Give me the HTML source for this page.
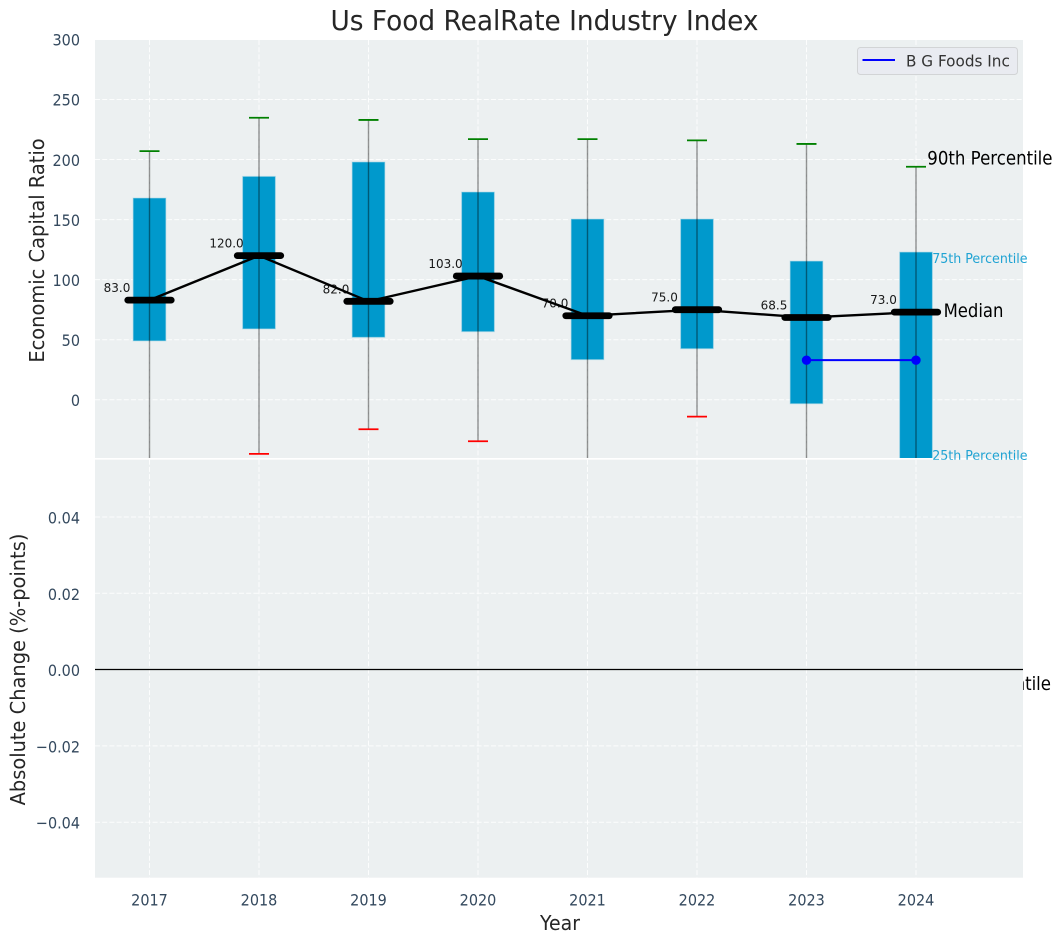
<!DOCTYPE html>
<html>
<head>
<meta charset="utf-8">
<title>Us Food RealRate Industry Index</title>
<style>
html,body{margin:0;padding:0;background:#fff;width:1062px;height:942px;overflow:hidden}
svg{display:block}
text{font-family:"DejaVu Sans","Liberation Sans",sans-serif}
</style>
</head>
<body>
<svg id="chart" width="1062" height="942" viewBox="0 0 1062 942" xmlns="http://www.w3.org/2000/svg">
  <defs>
    <clipPath id="top-clip"><rect x="95" y="40" width="928" height="418"/></clipPath>
  </defs>
  <rect width="1062" height="942" fill="#ffffff"/>
  <rect x="95" y="40" width="928" height="418" fill="#ecf0f1"/>
  <g id="upper-grid"></g>
  <g id="upper-marks" clip-path="url(#top-clip)"></g>
  <g id="upper-ticks"></g>
  <g id="annotations-under"></g>
  <rect x="95" y="459.7" width="928" height="418" fill="#ecf0f1"/>
  <g id="lower-grid"></g>
  <g id="lower-ticks"></g>
  <g id="x-ticks"></g>
  <line x1="95" x2="1023" y1="669.5" y2="669.5" stroke="#000000" stroke-width="1.3"/>
  <text transform="translate(544.5,30) scale(0.963,1)" text-anchor="middle" font-size="27.4" fill="#262626">Us Food RealRate Industry Index</text>
  <text transform="translate(44,250.5) rotate(-90) scale(0.943,1)" text-anchor="middle" font-size="20.6" fill="#262626">Economic Capital Ratio</text>
  <text transform="translate(25,669.5) rotate(-90) scale(0.943,1)" text-anchor="middle" font-size="20.6" fill="#262626">Absolute Change (%-points)</text>
  <text transform="translate(560,930) scale(0.945,1)" text-anchor="middle" font-size="20" fill="#262626">Year</text>
  <g>
    <rect x="857.5" y="47.5" width="160" height="27" rx="3" fill="#e9ebf1" stroke="#d2d4d6" stroke-width="1"/>
    <line x1="862.5" x2="895" y1="60" y2="60" stroke="#0000ff" stroke-width="2"/>
    <text transform="translate(906,66.5) scale(0.93,1)" font-size="16.4" fill="#333333">B G Foods Inc</text>
  </g>
<script>
// ---- chart data ----
var years = [2017, 2018, 2019, 2020, 2021, 2022, 2023, 2024];
var p90 = [207, 234.8, 233, 217, 217, 216, 213, 194];
var p75 = [168, 186, 198, 173, 150.5, 150.5, 115.5, 123];
var medians = [83, 120, 82, 103, 70, 75, 68.5, 73];
var medianLabels = ["83.0", "120.0", "82.0", "103.0", "70.0", "75.0", "68.5", "73.0"];
var p25 = [49, 59, 52, 56.7, 33.4, 42.5, -3.3, -50];
var p10 = [-60, -45, -24.5, -34.5, -65, -14, -70, -238];
var companyYears = [2023, 2024];
var companyValues = [33, 33];
var upperTicks = [0, 50, 100, 150, 200, 250, 300];
var upperTickLabels = ["0", "50", "100", "150", "200", "250", "300"];
var lowerTicks = [-0.04, -0.02, 0, 0.02, 0.04];
var lowerTickLabels = ["\u22120.04", "\u22120.02", "0.00", "0.02", "0.04"];

// ---- axis functions ----
function xAxis(year) { return 149.5 + (year - 2017) * 109.5; }
function yUpper(v) { return 399.8 - v * 1.2012; }
function yLower(v) { return 669.6 - v * 3815; }

var NS = 'http://www.w3.org/2000/svg';
function add(parentId, tag, attrs, txt) {
  var el = document.createElementNS(NS, tag);
  for (var k in attrs) { el.setAttribute(k, attrs[k]); }
  if (txt !== undefined) { el.textContent = txt; }
  document.getElementById(parentId).appendChild(el);
  return el;
}
function label(parentId, x, y, sx, attrs, txt) {
  attrs.transform = 'translate(' + x + ',' + y + ') scale(' + sx + ',1)';
  return add(parentId, 'text', attrs, txt);
}
var GRID = { stroke: '#ffffff', 'stroke-width': 1, 'stroke-dasharray': '5 2.2', 'stroke-opacity': 0.85 };
function gridLine(parentId, x1, x2, y1, y2) {
  var a = { x1: x1, x2: x2, y1: y1, y2: y2 };
  for (var k in GRID) { a[k] = GRID[k]; }
  return add(parentId, 'line', a);
}

// ---- grids and ticks ----
upperTicks.forEach(function (t, i) {
  var y = yUpper(t);
  if (t < 300) {
    var g = gridLine('upper-grid', 95, 1023, y, y);
    
    
  }
  var lab = label('upper-ticks', 80, y + 6.2, 0.9, { 'text-anchor': 'end', 'font-size': 16, fill: '#34495e' }, upperTickLabels[i]);
  
  
});
lowerTicks.forEach(function (t, i) {
  var y = yLower(t);
  if (t !== 0) {
    var g = gridLine('lower-grid', 95, 1023, y, y);
    
    
  }
  var lab = label('lower-ticks', 80, y + 6.5, 0.9, { 'text-anchor': 'end', 'font-size': 16, fill: '#34495e' }, lowerTickLabels[i]);
  
  
});
years.forEach(function (yr) {
  var x = xAxis(yr);
  var g1 = gridLine('upper-grid', x, x, 40, 458);
  
  
  var g2 = gridLine('lower-grid', x, x, 459.7, 877.7);
  
  
  var lab = label('x-ticks', x, 905.3, 0.9, { 'text-anchor': 'middle', 'font-size': 16, fill: '#34495e' }, String(yr));
  
  
});

// ---- boxes, whiskers, caps ----
years.forEach(function (yr, i) {
  var x = xAxis(yr);
  var box = add('upper-marks', 'rect', {
    x: x - 16.4, y: yUpper(p75[i]), width: 32.8, height: yUpper(p25[i]) - yUpper(p75[i]),
    fill: '#0099cc', stroke: '#add8e6', 'stroke-opacity': 0.6, 'stroke-width': 1
  });
  
  

  var whisker = add('upper-marks', 'line', {
    x1: x, x2: x, y1: yUpper(p90[i]), y2: yUpper(p10[i]),
    stroke: '#000000', 'stroke-opacity': 0.42, 'stroke-width': 1.4
  });
  
  

  var capTop = add('upper-marks', 'line', {
    x1: x - 10, x2: x + 10, y1: yUpper(p90[i]), y2: yUpper(p90[i]), stroke: '#008000', 'stroke-width': 1.8
  });
  
  

  var capLow = add('upper-marks', 'line', {
    x1: x - 10, x2: x + 10, y1: yUpper(p10[i]), y2: yUpper(p10[i]), stroke: '#ff0000', 'stroke-width': 1.8
  });
  
  
});

// ---- median trend line ----
var medianPts = years.map(function (yr, i) { return xAxis(yr) + ',' + yUpper(medians[i]); }).join(' ');
var medianLine = add('upper-marks', 'polyline', { points: medianPts, fill: 'none', stroke: '#000000', 'stroke-width': 2.4 });



// ---- thick median bars and printed values ----
years.forEach(function (yr, i) {
  var x = xAxis(yr);
  var y = yUpper(medians[i]);
  var bar = add('upper-marks', 'line', {
    x1: x - 21.7, x2: x + 21.7, y1: y, y2: y, stroke: '#000000', 'stroke-width': 6.8, 'stroke-linecap': 'round'
  });
  
  
  var lab = label('upper-marks', x - 32.5, y - 8, 0.96, { 'text-anchor': 'middle', 'font-size': 12.5, fill: '#000000', 'fill-opacity': 0.9 }, medianLabels[i]);
  
  
});

// ---- company series ----
var companyPts = companyYears.map(function (yr, i) { return xAxis(yr) + ',' + yUpper(companyValues[i]); }).join(' ');
var companyLine = add('upper-marks', 'polyline', { points: companyPts, fill: 'none', stroke: '#0000ff', 'stroke-width': 2 });


companyYears.forEach(function (yr, i) {
  var dot = add('upper-marks', 'circle', { cx: xAxis(yr), cy: yUpper(companyValues[i]), r: 4.7, fill: '#0000ff' });
  
  
});

// ---- percentile annotations for the last year ----
var last = years.length - 1;
var lastX = xAxis(years[last]);
var a90 = label('annotations-under', lastX + 11.3, yUpper(p90[last]) - 2.4, 0.907, { 'font-size': 18.3, fill: '#000000' }, '90th Percentile');


var a75 = label('annotations-under', lastX + 16.2, yUpper(p75[last]) + 11, 0.95, { 'font-size': 13.3, fill: '#1fa3d3' }, '75th Percentile');


var aMed = label('annotations-under', lastX + 27.6, yUpper(medians[last]) + 4.7, 0.9, { 'font-size': 18.3, fill: '#000000' }, 'Median');


var a25 = label('annotations-under', lastX + 16.2, yUpper(p25[last]) + 0.3, 0.95, { 'font-size': 13.3, fill: '#1fa3d3' }, '25th Percentile');


var a10 = label('annotations-under', lastX + 9.8, yUpper(p10[last]) + 4.3, 0.907, { 'font-size': 18.3, fill: '#000000' }, '10th Percentile');


</script>
</svg>
</body>
</html>
